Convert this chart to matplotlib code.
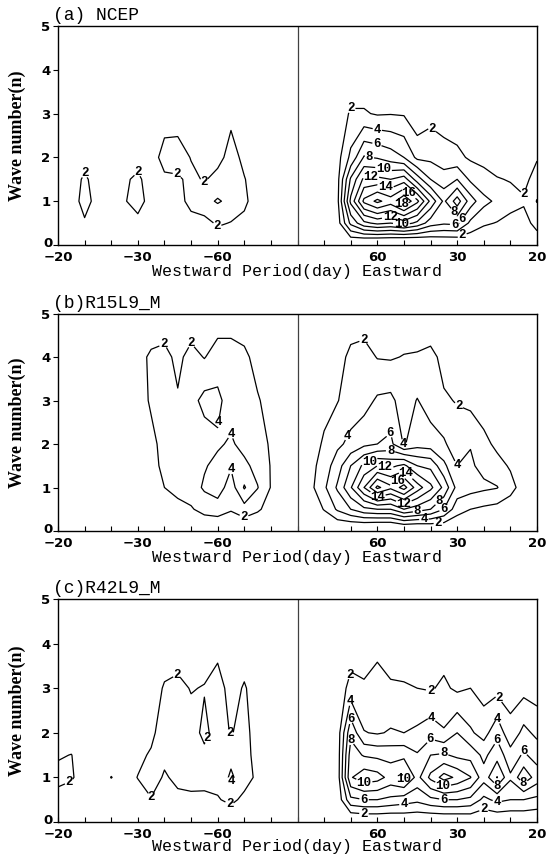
import numpy as np
import matplotlib
matplotlib.use("Agg")
import matplotlib.pyplot as plt

# frequency axis in units of 1/180 cycles per day (negative = westward)
freq_units = np.arange(-9, 9.01, 0.5)
wave_numbers = [0, 0.5, 1, 1.5, 2, 3, 4, 5]
levels = [2, 4, 6, 8, 10, 12, 14, 16, 18]

xtick_pos = [-9, -6, -3, 3, 6, 9]
xtick_labels = ["\u221220", "\u221230", "\u221260", "60", "30", "20"]
ytick_pos = [0, 1, 2, 3, 4, 5]
panel_titles = ["(a) NCEP", "(b)R15L9_M", "(c)R42L9_M"]

# power values: one column per frequency, rows = wave_numbers
ncep_columns = [
    [0.3, 0.8, 1.0, 0.9, 0.7, 0.5, 0.3, 0.2],   # -9.0
    [0.3, 0.9, 1.2, 1.1, 0.8, 0.5, 0.3, 0.2],   # -8.5
    [0.5, 1.8, 2.6, 2.3, 1.2, 0.5, 0.3, 0.2],   # -8.0
    [0.3, 1.0, 1.4, 1.2, 0.9, 0.5, 0.3, 0.2],   # -7.5
    [0.3, 0.8, 1.0, 0.9, 0.7, 0.5, 0.3, 0.2],   # -7.0
    [0.3, 1.2, 1.85, 1.7, 1.0, 0.5, 0.3, 0.2],  # -6.5
    [0.0, 1.4, 2.8, 2.4, 1.2, 0.6, 0.3, 0.2],   # -6.0
    [0.2, 0.9, 1.2, 1.0, 1.0, 0.6, 0.3, 0.2],   # -5.5
    [0.2, 0.8, 1.0, 1.6, 2.8, 1.0, 0.3, 0.2],   # -5.0
    [0.2, 1.0, 1.3, 1.7, 3.0, 0.9, 0.3, 0.2],   # -4.5
    [-0.5, 1.3, 2.6, 2.5, 1.9, 0.8, 0.3, 0.2],  # -4.0
    [-1.0, 1.3, 3.4, 1.8, 0.5, 0.5, 0.3, 0.2],  # -3.5
    [0.4, 2.3, 4.2, 2.7, 1.3, 0.6, 0.3, 0.2],   # -3.0
    [0.2, 1.9, 3.5, 3.2, 2.8, 1.5, 0.4, 0.2],   # -2.5
    [0.3, 1.5, 2.4, 2.1, 1.5, 0.7, 0.3, 0.2],   # -2.0
    [0.3, 0.8, 1.0, 1.0, 0.8, 0.5, 0.3, 0.2],   # -1.5
    [0.2, 0.6, 0.8, 0.7, 0.6, 0.4, 0.3, 0.2],   # -1.0
    [0.2, 0.5, 0.6, 0.6, 0.5, 0.4, 0.2, 0.2],   # -0.5
    [0.2, 0.4, 0.5, 0.5, 0.5, 0.3, 0.2, 0.2],   # 0.0
    [0.2, 0.5, 0.6, 0.6, 0.6, 0.5, 0.3, 0.2],   # 0.5
    [0.2, 0.7, 0.9, 0.9, 0.9, 0.8, 0.3, 0.2],   # 1.0
    [0.0, 1.0, 1.4, 1.3, 1.2, 1.0, 0.3, 0.2],   # 1.5
    [-0.5, 6.5, 10.5, 8.3, 4.5, 2.2, 0.5, 0.2],  # 2.0
    [-1.5, 9.5, 16.5, 12.5, 8.2, 2.2, 0.5, 0.2],  # 2.5
    [-2.0, 10.5, 18.5, 12.5, 7.8, 1.8, 0.5, 0.2],  # 3.0
    [-2.0, 10.0, 17.0, 12.0, 7.0, 1.9, 0.5, 0.2],  # 3.5
    [-2.5, 11.0, 19.8, 13.0, 6.0, 1.8, 0.4, 0.2],  # 4.0
    [-2.0, 9.5, 16.5, 9.0, 3.5, 0.5, 0.3, 0.2],   # 4.5
    [-1.0, 7.0, 11.5, 6.0, 3.5, 1.3, 0.3, 0.2],   # 5.0
    [-0.5, 6.3, 7.6, 4.8, 3.0, 0.8, 0.2, 0.2],    # 5.5
    [-0.5, 6.5, 11.0, 6.0, 2.5, 0.7, 0.2, 0.2],   # 6.0
    [0.0, 3.5, 7.0, 3.6, 1.7, 0.6, 0.2, 0.2],     # 6.5
    [0.0, 2.3, 4.6, 2.6, 1.5, 0.5, 0.2, 0.2],     # 7.0
    [0.0, 1.9, 3.6, 2.1, 1.2, 0.5, 0.2, 0.2],     # 7.5
    [0.0, 1.5, 2.6, 1.9, 1.2, 0.5, 0.2, 0.2],     # 8.0
    [0.0, 1.1, 2.3, 1.3, 0.9, 0.4, 0.2, 0.2],     # 8.5
    [0.5, 2.8, 4.1, 3.0, 1.8, 0.8, 0.2, 0.2],     # 9.0
]

r15_columns = [
    [0, 0.5, 0.8, 0.8, 0.7, 0.6, 0.5, 0.3],   # -9.0
    [0, 0.5, 0.8, 0.8, 0.7, 0.6, 0.5, 0.3],   # -8.5
    [0, 0.5, 0.8, 0.8, 0.7, 0.6, 0.5, 0.3],   # -8.0
    [0, 0.5, 0.8, 0.8, 0.7, 0.6, 0.5, 0.3],   # -7.5
    [0, 0.5, 0.8, 0.8, 0.7, 0.7, 0.6, 0.3],   # -7.0
    [0, 0.5, 0.8, 0.8, 0.8, 0.9, 0.9, 0.4],   # -6.5
    [0, 0.5, 0.8, 0.9, 1.0, 1.3, 1.4, 0.5],   # -6.0
    [0, 0.6, 1.0, 1.3, 1.6, 2.2, 2.3, 0.6],   # -5.5
    [0, 1.2, 2.0, 2.5, 2.5, 2.8, 2.6, 0.6],   # -5.0
    [0, 1.5, 2.5, 3.0, 3.2, 2.2, 1.5, 0.4],   # -4.5
    [0, 1.8, 3.0, 3.3, 3.3, 3.3, 2.7, 0.5],   # -4.0
    [0, 2.7, 4.3, 3.8, 3.0, 4.6, 1.9, 0.4],   # -3.5
    [0, 3.0, 5.0, 4.6, 3.7, 4.5, 2.9, 0.8],   # -3.0
    [0, 2.2, 3.0, 4.2, 4.3, 3.0, 2.9, 0.8],   # -2.5
    [0, 3.2, 6.2, 4.5, 3.3, 2.5, 2.5, 0.5],   # -2.0
    [0, 2.3, 4.1, 3.3, 2.7, 2.2, 1.2, 0.3],   # -1.5
    [0, 1.2, 1.9, 1.9, 1.8, 1.2, 0.8, 0.3],   # -1.0
    [0, 0.6, 0.9, 0.9, 0.8, 0.6, 0.4, 0.2],   # -0.5
    [0, 0.4, 0.6, 0.6, 0.5, 0.4, 0.3, 0.2],   # 0.0
    [0, 0.8, 1.5, 1.3, 1.0, 0.6, 0.4, 0.2],   # 0.5
    [0, 2.1, 3.6, 3.0, 2.3, 1.3, 0.6, 0.2],   # 1.0
    [-0.5, 4.3, 6.3, 5.0, 3.6, 1.9, 1.0, 0.3],  # 1.5
    [-1.0, 6.0, 9.8, 8.0, 4.5, 3.0, 2.6, 0.5],  # 2.0
    [-1.5, 7.5, 14.0, 10.5, 5.5, 3.2, 2.8, 0.8],  # 2.5
    [-2.0, 8.0, 18.5, 12.0, 6.0, 4.3, 1.9, 0.5],  # 3.0
    [-2.0, 8.0, 16.5, 11.5, 6.5, 4.5, 1.8, 0.5],  # 3.5
    [-1.5, 10.0, 18.8, 12.5, 3.8, 3.0, 2.1, 0.5],  # 4.0
    [-1.5, 9.0, 15.0, 10.0, 5.2, 4.1, 2.2, 0.5],  # 4.5
    [-1.0, 8.0, 12.5, 9.5, 5.0, 3.0, 2.5, 0.5],   # 5.0
    [-0.5, 6.0, 9.5, 6.5, 4.3, 2.2, 1.5, 0.3],    # 5.5
    [0, 2.8, 5.3, 4.0, 2.8, 1.9, 0.8, 0.2],       # 6.0
    [0, 2.0, 4.8, 4.3, 3.9, 1.4, 0.6, 0.2],       # 6.5
    [0, 1.6, 4.4, 3.4, 2.5, 1.0, 0.4, 0.2],       # 7.0
    [0, 1.3, 4.1, 2.6, 1.6, 0.7, 0.3, 0.1],       # 7.5
    [0, 1.0, 2.6, 1.8, 1.0, 0.5, 0.2, 0.1],       # 8.0
    [0, 0.6, 1.2, 0.9, 0.6, 0.3, 0.2, 0.1],       # 8.5
    [0, 0.4, 0.8, 0.6, 0.4, 0.2, 0.1, 0.1],       # 9.0
]

r42_columns = [
    [0, 1.2, 2.6, 1.8, 0.8, 0.5, 0.3, 0.2],     # -9.0
    [0, 1.0, 2.2, 2.05, 0.8, 0.5, 0.3, 0.2],    # -8.5
    [0, 0.6, 1.2, 1.0, 0.7, 0.5, 0.3, 0.2],     # -8.0
    [0, 0.5, 0.9, 0.8, 0.7, 0.6, 0.4, 0.2],     # -7.5
    [0, 0.6, 2.05, 0.9, 0.7, 0.6, 0.4, 0.2],    # -7.0
    [0, 0.8, 1.3, 1.0, 0.8, 0.6, 0.4, 0.2],     # -6.5
    [0, 1.3, 2.05, 1.6, 1.3, 0.8, 0.4, 0.2],    # -6.0
    [0, 1.9, 2.8, 2.2, 1.6, 1.0, 0.5, 0.2],     # -5.5
    [0, 1.3, 1.8, 2.4, 2.9, 2.2, 0.8, 0.2],     # -5.0
    [0, 1.6, 2.4, 2.6, 2.8, 2.5, 0.9, 0.2],     # -4.5
    [0, 1.7, 2.5, 2.6, 2.7, 1.9, 0.7, 0.2],     # -4.0
    [0, 1.6, 2.6, 2.4, 1.6, 2.1, 1.0, 0.3],     # -3.5
    [0, 1.8, 2.8, 2.8, 2.7, 2.9, 1.3, 0.3],     # -3.0
    [0, 2.6, 4.3, 3.5, 1.9, 1.2, 0.5, 0.2],     # -2.5
    [0, 1.4, 3.0, 2.6, 2.5, 2.2, 0.8, 0.2],     # -2.0
    [0, 1.0, 1.5, 1.4, 1.3, 1.0, 0.5, 0.2],     # -1.5
    [0, 0.5, 0.8, 0.7, 0.6, 0.5, 0.3, 0.2],     # -1.0
    [0, 0.4, 0.6, 0.6, 0.5, 0.4, 0.3, 0.2],     # -0.5
    [0, 0.3, 0.5, 0.5, 0.5, 0.4, 0.3, 0.2],     # 0.0
    [0, 0.3, 0.5, 0.5, 0.5, 0.4, 0.3, 0.2],     # 0.5
    [0, 0.4, 0.6, 0.6, 0.6, 0.5, 0.3, 0.2],     # 1.0
    [0, 0.5, 0.8, 0.8, 0.8, 0.7, 0.4, 0.2],     # 1.5
    [-0.5, 5.5, 9.8, 9.0, 7.5, 2.7, 0.8, 0.3],  # 2.0
    [-0.3, 6.0, 11.3, 7.8, 4.1, 2.3, 0.8, 0.3],  # 2.5
    [-0.3, 6.0, 10.8, 7.5, 3.8, 2.7, 1.5, 0.3],  # 3.0
    [-0.3, 5.5, 9.3, 7.3, 4.2, 2.3, 0.8, 0.3],   # 3.5
    [0, 5.0, 10.5, 7.5, 4.0, 2.2, 0.8, 0.3],     # 4.0
    [0, 4.5, 7.3, 6.2, 4.4, 2.0, 0.7, 0.3],      # 4.5
    [-0.3, 5.5, 10.5, 8.0, 5.2, 1.8, 0.8, 0.3],  # 5.0
    [-0.3, 6.0, 12.8, 8.3, 4.2, 2.4, 1.0, 0.3],  # 5.5
    [-0.3, 6.0, 11.6, 7.5, 6.0, 1.6, 0.8, 0.3],  # 6.0
    [0, 5.5, 10.1, 7.3, 4.3, 2.0, 0.7, 0.3],     # 6.5
    [0, 3.5, 6.8, 5.5, 3.2, 1.2, 0.6, 0.3],      # 7.0
    [0, 4.5, 10.1, 7.2, 5.4, 1.3, 0.6, 0.3],     # 7.5
    [0, 4.0, 6.3, 4.8, 2.6, 1.2, 0.6, 0.3],      # 8.0
    [0, 4.0, 9.5, 6.3, 4.6, 1.3, 0.6, 0.3],      # 8.5
    [0, 3.5, 7.0, 5.2, 3.5, 1.0, 0.5, 0.2],      # 9.0
]

# approximate contour-label locations (freq unit, wave number)
label_spots = [
    [(-7.9, 1.7), (-6.0, 1.75), (-4.5, 1.67), (-3.52, 1.4), (-3.0, 0.45),
     (2.0, 3.15), (5.02, 2.62), (8.5, 1.17), (2.98, 2.58), (2.98, 2.28),
     (2.7, 2.0), (3.25, 1.78), (2.75, 1.55), (3.3, 1.3), (4.23, 1.22),
     (3.9, 0.93), (3.48, 0.67), (3.9, 0.45), (5.9, 0.76), (6.2, 0.58),
     (5.9, 0.4), (6.2, 0.2)],
    [(-5.03, 4.3), (-4.0, 4.35), (-3.0, 2.5), (-2.51, 2.24), (-2.51, 1.45),
     (-2.0, 0.33), (2.46, 4.45), (6.0, 2.8), (1.94, 2.17), (3.95, 2.0),
     (5.95, 1.5), (3.48, 2.25), (3.5, 1.87), (2.7, 1.6), (3.3, 1.5),
     (4.15, 1.38), (3.75, 1.15), (3.0, 0.75), (4.0, 0.6), (5.25, 0.72),
     (4.5, 0.5), (5.55, 0.45), (4.75, 0.29), (5.3, 0.13)],
    [(-8.52, 0.82), (-5.5, 0.55), (-4.51, 3.3), (-3.49, 1.9), (-2.55, 1.99),
     (-2.52, 0.9), (-2.55, 0.4), (2.0, 3.3), (5.0, 2.9), (7.5, 2.75),
     (2.0, 2.71), (5.0, 2.3), (7.5, 2.3), (2.0, 2.3), (5.0, 1.85),
     (7.5, 1.85), (8.5, 1.6), (2.0, 1.88), (5.5, 1.55), (7.5, 0.82),
     (8.5, 0.87), (2.5, 0.88), (4.0, 0.9), (5.5, 0.85), (2.5, 0.5),
     (5.5, 0.5), (4.0, 0.4), (7.5, 0.44), (2.5, 0.2), (7.0, 0.3)],
]

W, H = 547, 856
fig = plt.figure(figsize=(W / 100, H / 100), dpi=100)

panel_px = [(26, 245), (313.5, 531), (599, 822)]
xlabel_gap_px = [19, 19, 17]
left_px, right_px = 58, 537
tick_font = dict(family="DejaVu Sans", weight="bold", size=9.5)
mono_font = dict(family="Liberation Mono", size=13)
xlab_font = dict(family="Liberation Mono", size=12)
px_to_pt = 72 / 100

fields = [ncep_columns, r15_columns, r42_columns]
for k, (cols, title) in enumerate(zip(fields, panel_titles)):
    top, bot = panel_px[k]
    ax = fig.add_axes([left_px / W, 1 - bot / H, (right_px - left_px) / W, (bot - top) / H])
    Z = np.array(cols, dtype=float).T
    cs = ax.contour(freq_units, wave_numbers, Z, levels=levels, colors="k",
                    linewidths=0.9)
    with plt.rc_context({"font.family": "Liberation Mono", "font.weight": "bold"}):
        ax.clabel(cs, levels, inline=True, fmt="%d", fontsize=9,
                  manual=label_spots[k], inline_spacing=1)
    for t in cs.labelTexts:
        t.set_rotation(0)
    ax.axvline(0, color="0.25", lw=0.9)
    ax.set_xlim(-9, 9)
    ax.set_ylim(0, 5)
    ax.set_xticks(np.arange(-9, 10, 1), minor=True)
    ax.set_xticks(xtick_pos)
    ax.set_xticklabels(xtick_labels, fontdict=tick_font)
    ax.set_yticks(ytick_pos)
    # the "0" label is drawn separately, nudged up so it clears the "-20" label
    ax.set_yticklabels([""] + [str(v) for v in ytick_pos[1:]], fontdict=tick_font)
    ax.annotate(str(ytick_pos[0]), xy=(0, 0), xycoords="axes fraction",
                xytext=(-5.5 * px_to_pt, 3 * px_to_pt), textcoords="offset points",
                ha="right", va="center_baseline", **tick_font)
    ax.tick_params(axis="x", which="both", direction="in", length=3.5, width=0.8,
                   pad=4)
    ax.tick_params(axis="y", direction="out", length=3.5, width=0.8, pad=2)
    for sp in ax.spines.values():
        sp.set_linewidth(1.0)
    ax.set_xlabel("Westward Period(day) Eastward", fontdict=xlab_font)
    ax.xaxis.set_label_coords(0.5, -xlabel_gap_px[k] / (bot - top))
    ax.xaxis.label.set_va("top")
    ax.set_ylabel("Wave number(n)", family="Liberation Serif", weight="bold",
                  size=13)
    ax.yaxis.set_label_coords(-0.066, 0.5)
    ax.text(-0.011, 1.008, title, transform=ax.transAxes, ha="left", va="bottom",
            **mono_font)

fig.savefig("out.png", dpi=100)
